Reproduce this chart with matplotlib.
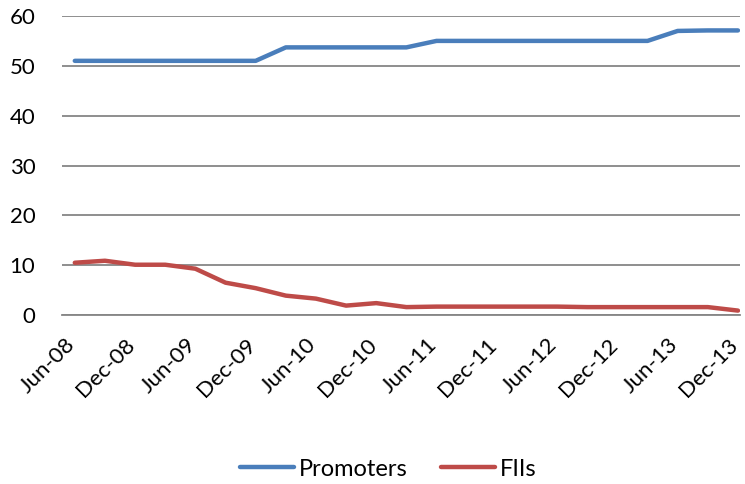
import matplotlib.pyplot as plt
import matplotlib.transforms as mtransforms

# quarterly shareholding (%), Jun-08 .. Dec-13
quarters = ['Jun-08', 'Sep-08', 'Dec-08', 'Mar-09', 'Jun-09', 'Sep-09', 'Dec-09',
            'Mar-10', 'Jun-10', 'Sep-10', 'Dec-10', 'Mar-11', 'Jun-11', 'Sep-11',
            'Dec-11', 'Mar-12', 'Jun-12', 'Sep-12', 'Dec-12', 'Mar-13', 'Jun-13',
            'Sep-13', 'Dec-13']
promoters = [51.0, 51.0, 51.0, 51.0, 51.0, 51.0, 51.0,
             53.7, 53.7, 53.7, 53.7, 53.7, 55.0, 55.0,
             55.0, 55.0, 55.0, 55.0, 55.0, 55.0, 57.0,
             57.1, 57.1]
fiis = [10.5, 10.9, 10.1, 10.1, 9.3, 6.5, 5.4,
        3.9, 3.3, 1.9, 2.4, 1.6, 1.7, 1.7,
        1.7, 1.7, 1.7, 1.6, 1.6, 1.6, 1.6,
        1.6, 0.9]
y_ticks = [0, 10, 20, 30, 40, 50, 60]

plt.rcParams['font.family'] = ['Lato', 'DejaVu Sans']

fig = plt.figure(figsize=(7.45, 4.84), dpi=100)
ax = fig.add_axes([0.083, 0.349, 0.91, 0.618])

x = list(range(len(quarters)))
ax.plot(x, promoters, color='#4A7EBB', lw=3.2, solid_capstyle='round', label='Promoters', zorder=3)
ax.plot(x, fiis, color='#BE4B48', lw=3.2, solid_capstyle='round', label='FIIs', zorder=3)

ax.set_ylim(0, 60)
ax.set_xlim(-0.43, 22.06)
ax.set_yticks(y_ticks)
ax.yaxis.grid(True, color='#868686', lw=1.3)
ax.set_axisbelow(True)

ax.set_xticks(x[::2])
ax.set_xticklabels(quarters[::2], rotation=45, ha='right', va='center',
                   rotation_mode='anchor')
ax.tick_params(axis='both', length=0, labelsize=16, colors='black')
ax.tick_params(axis='x', pad=19)
ax.tick_params(axis='y', pad=19)

# nudge the rotated labels a little left so the last one fits
shift = mtransforms.ScaledTranslation(-3 / 100, 0, fig.dpi_scale_trans)
for lbl in ax.get_xticklabels():
    lbl.set_transform(lbl.get_transform() + shift)

for s in ['top', 'right', 'left']:
    ax.spines[s].set_visible(False)
ax.spines['bottom'].set_color('#868686')
ax.spines['bottom'].set_linewidth(1.3)

fig.legend(loc='lower center', bbox_to_anchor=(0.521, -0.035), ncol=2, frameon=False,
           fontsize=17, handlelength=2.3, handletextpad=0.2, columnspacing=1.4)

fig.savefig('out.png', dpi=100)
